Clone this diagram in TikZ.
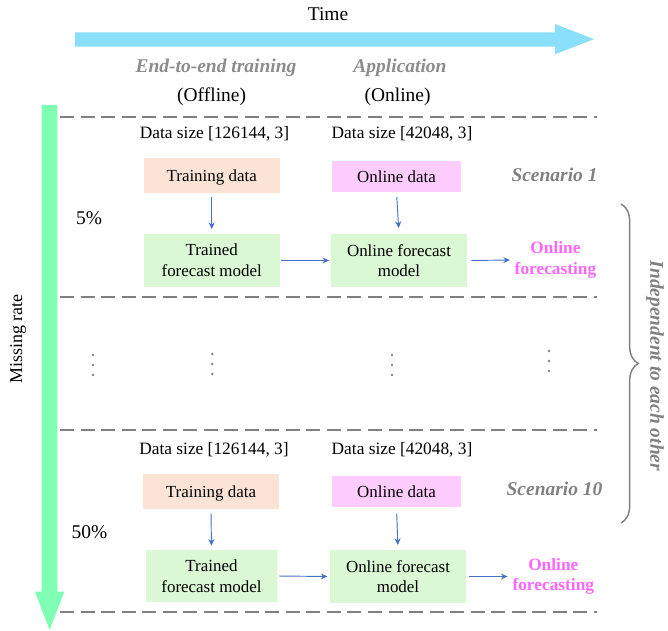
\documentclass[tikz,border=0pt]{standalone}
\usepackage{fontspec}
\setmainfont{Liberation Serif}
\usetikzlibrary{arrows.meta,decorations.pathreplacing}
\definecolor{timec}{RGB}{137,223,252}
\definecolor{ratec}{RGB}{127,255,180}
\definecolor{peachc}{RGB}{251,228,214}
\definecolor{pinkc}{RGB}{255,204,255}
\definecolor{greenc}{RGB}{217,248,211}
\definecolor{arrc}{RGB}{68,114,196}
\definecolor{grayt}{RGB}{140,140,140}
\definecolor{grays}{RGB}{128,128,128}
\definecolor{magc}{RGB}{255,102,255}
\newcommand\myboxfont{\fontsize{12.7}{15.5}\selectfont}
\newcommand\mydatafont{\fontsize{13}{15.5}\selectfont}
\newcommand\myheadfont{\fontsize{14.6}{17}\selectfont}
\begin{document}
\begin{tikzpicture}[x=0.75pt,y=-0.75pt,
  txt/.style={inner sep=0pt,align=center},
  box/.style={inner sep=0pt,align=center,font=\myboxfont},
  smallbox/.style={box,text height=11pt,text depth=1.8pt,minimum width=102pt,minimum height=26.25pt},
  onbox/.style={box,text height=11pt,text depth=1.8pt,minimum width=96.75pt,minimum height=23.25pt},
  modbox/.style={box,fill=greenc,minimum width=102pt,minimum height=39.75pt},
  datasz/.style={txt,font=\mydatafont},
  headg/.style={txt,font=\myheadfont\bfseries\itshape,text=grayt},
  scen/.style={txt,font=\myheadfont\bfseries\itshape,text=grays},
  pct/.style={txt,font=\myheadfont},
  ofc/.style={txt,font=\fontsize{13}{15.5}\selectfont\bfseries,text=magc},
  arr/.style={draw=arrc,line width=0.7pt,-{Stealth[length=5pt,width=4.5pt]}},
  sep/.style={draw=grays,line width=1.5pt,dash pattern=on 10.5pt off 4.9pt},
  dotm/.style={fill=grays}
]
\useasboundingbox (0,0) rectangle (668,631);

% time arrow
\fill[timec] (75,32.3) -- (555,32.3) -- (555,24) -- (594,39.2) -- (555,54.3) -- (555,46.7) -- (75,46.7) -- cycle;
\node[txt,font=\myheadfont] (time) at (328,14) {Time};

% missing rate arrow
\fill[ratec] (41.7,105) -- (57.3,105) -- (57.3,591.7) -- (64.3,591.7) -- (49.6,630) -- (35,591.7) -- (41.7,591.7) -- cycle;
\node[txt,rotate=90,font=\fontsize{13.5}{16}\selectfont] (mr) at (18,339) {Missing rate};

% headers
\node[headg] (h1) at (216,68) {End-to-end training};
\node[txt,font=\myheadfont] (h1b) at (211.6,97) {(Offline)};
\node[headg] (h2) at (400,68) {Application};
\node[txt,font=\myheadfont] (h2b) at (397.6,97) {(Online)};

% separators
\draw[sep] (60,117) -- (597,117);
\draw[sep] (60,296.5) -- (597,296.5);
\draw[sep] (60,429.5) -- (597,429.5);
\draw[sep] (60,611.5) -- (597,611.5);

% scenario 1
\node[datasz] (ds1a) at (214.5,134) {Data size [126144, 3]};
\node[datasz] (ds1b) at (402,134) {Data size [42048, 3]};
\node[smallbox,fill=peachc] (td1) at (211.7,175.8) {Training data};
\node[onbox,fill=pinkc] (od1) at (396.5,176.5) {Online data};
\node[modbox] (tm1) at (211.7,260.5) {Trained\\forecast model};
\node[modbox] (om1) at (399,260.5) {Online forecast\\model};
\node[ofc] (of1) at (555.5,260) {Online\\forecasting};
\node[scen] (sc1) at (554.5,174.5) {Scenario 1};
\node[pct] (p1) at (89,218) {5\%};
\draw[arr,shorten <=2.6pt,shorten >=3.5pt] (td1.south) -- (tm1.north);
\draw[arr,shorten <=3.7pt,shorten >=4.3pt] (od1.south) -- (om1.north);
\draw[arr,shorten <=0.7pt,shorten >=1.2pt] (tm1.east) -- (om1.east -| om1.west);
\draw[arr,shorten <=3pt,shorten >=3.4pt] (om1.east) -- (of1.west);

% dots
\foreach \x/\y in {93/355,212.3/354,392/355,549/351}{
  \fill[dotm] (\x,\y) circle (1.05pt);
  \fill[dotm] (\x,\y+10) circle (1.05pt);
  \fill[dotm] (\x,\y+20) circle (1.05pt);
}

% scenario 10
\node[datasz] (ds2a) at (214,450) {Data size [126144, 3]};
\node[datasz] (ds2b) at (402,450) {Data size [42048, 3]};
\node[smallbox,fill=peachc] (td2) at (211,491.8) {Training data};
\node[onbox,fill=pinkc] (od2) at (396.5,491.5) {Online data};
\node[modbox,minimum width=98.25pt,minimum height=39pt] (tm2) at (211.5,576) {Trained\\forecast model};
\node[modbox,minimum height=39.5pt] (om2) at (398,576.5) {Online forecast\\model};
\node[ofc] (of2) at (553.3,576.5) {Online\\forecasting};
\node[scen] (sc2) at (554.5,488.5) {Scenario 10};
\node[pct] (p2) at (89.5,532) {50\%};
\draw[arr,shorten <=3pt,shorten >=3pt] (td2.south) -- (tm2.north);
\draw[arr,shorten <=4.5pt,shorten >=3.7pt] (od2.south) -- (om2.north);
\draw[arr,shorten <=1.2pt,shorten >=1.7pt] (tm2.east) -- (om2.west);
\draw[arr,shorten <=2.2pt,shorten >=3.5pt] (om2.east) -- (of2.west);

% brace
\coordinate (bt) at (621,204);
\coordinate (bb) at (621,523);
\draw[grays,line width=1.1pt,decorate,decoration={brace,amplitude=13pt}] (bt) -- (bb);
\node[scen,rotate=-90] (ind) at (655,366) {Independent to each other};
\end{tikzpicture}
\end{document}
